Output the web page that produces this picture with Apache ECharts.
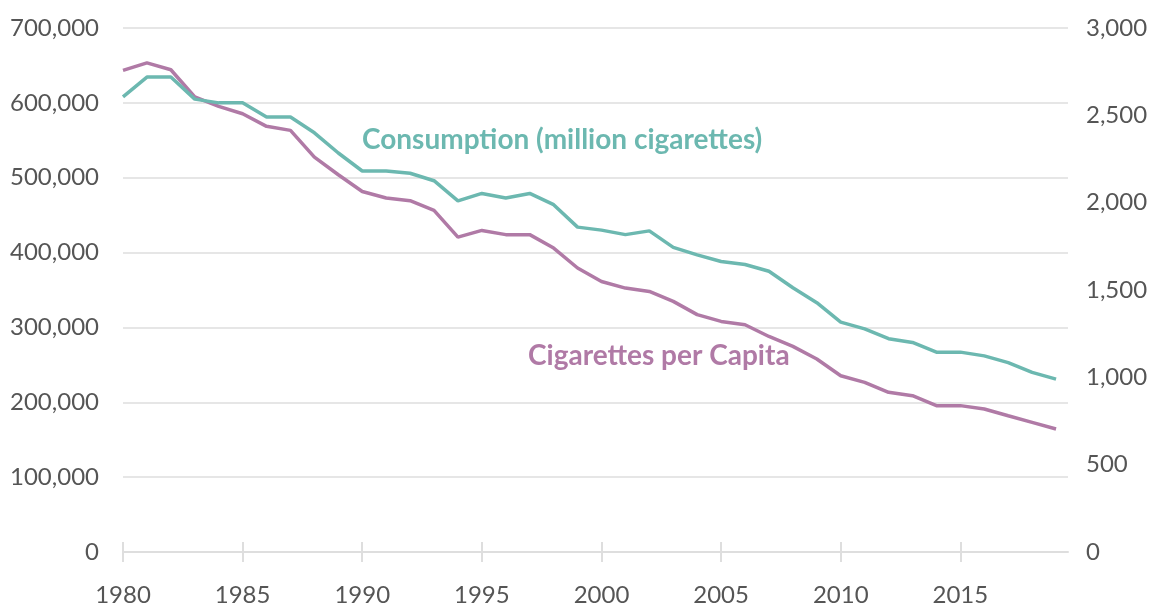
<!DOCTYPE html>
<html>
<head>
<meta charset="utf-8">
<script src="https://cdn.jsdelivr.net/npm/echarts@6/dist/echarts.min.js"></script>
<style>
html,body{margin:0;padding:0;background:#fff;}
#chart{width:1151px;height:610px;}
</style>
</head>
<body>
<div id="chart"></div>
<script>
const years = [];
for (let y = 1980; y <= 2019; y++) years.push(y);

const consumption = [
  608000, 634500, 634500, 605000, 600000, 600000, 581000, 581000, 560000, 533000,
  509000, 509000, 506000, 496000, 469000, 479000, 473000, 479000, 464000, 434000,
  430000, 424000, 429000, 407000, 397000, 388000, 384000, 375000, 353000, 333000,
  307000, 298000, 285000, 280000, 267000, 267000, 262000, 253000, 240000, 231000
];

const perCapita = [
  2757, 2800, 2761, 2605, 2551, 2509, 2437, 2414, 2261, 2160,
  2064, 2027, 2011, 1956, 1803, 1841, 1817, 1817, 1740, 1626,
  1549, 1511, 1492, 1435, 1359, 1320, 1301, 1234, 1177, 1105,
  1009, 971, 914, 895, 838, 838, 819, 780, 742, 704
];

const xTickYears = [1980, 1985, 1990, 1995, 2000, 2005, 2010, 2015];
const consumptionLabel = 'Consumption (million cigarettes)';
const perCapitaLabel = 'Cigarettes per Capita';

const TEAL = '#6cb8b0';
const PURPLE = '#b07aa6';
const TEXT = '#555555';
const GRID = '#dedede';
const FONT = 'Lato, "Noto Sans", sans-serif';

const chart = echarts.init(document.getElementById('chart'));
const fmt = v => v.toLocaleString('en-US');

chart.setOption({
  animation: false,
  grid: { left: 123, right: 83, top: 28, bottom: 58 },
  xAxis: [{
    type: 'value', min: 1980, max: 2019.5,
    axisLine: { show: true, lineStyle: { color: GRID, width: 2 } },
    axisTick: { show: true, length: 10, lineStyle: { color: GRID, width: 2 }, customValues: xTickYears },
    axisLabel: { color: TEXT, fontSize: 24, fontFamily: FONT, margin: 31, customValues: xTickYears, formatter: v => String(v) },
    splitLine: { show: false }
  }, {
    type: 'value', min: 1980, max: 2019.5, position: 'bottom',
    axisLine: { show: false },
    axisTick: { show: true, inside: true, length: 10, lineStyle: { color: GRID, width: 2 }, customValues: xTickYears },
    axisLabel: { show: false },
    splitLine: { show: false }
  }],
  yAxis: [{
    type: 'value', min: 0, max: 700000, interval: 100000,
    axisLine: { show: false }, axisTick: { show: false },
    axisLabel: { color: TEXT, fontSize: 24, fontFamily: FONT, margin: 24, formatter: fmt },
    splitLine: { lineStyle: { color: GRID, width: 1.5 } }
  }, {
    type: 'value', min: 0, max: 3000, interval: 500, position: 'right',
    axisLine: { show: false }, axisTick: { show: false },
    axisLabel: { color: TEXT, fontSize: 24, fontFamily: FONT, margin: 18, formatter: fmt },
    splitLine: { show: false }
  }],
  series: [{
    name: consumptionLabel, type: 'line', xAxisIndex: 0, yAxisIndex: 0,
    data: years.map((y, i) => [y, consumption[i]]),
    showSymbol: false, lineStyle: { color: TEAL, width: 3.5 }, z: 3
  }, {
    name: perCapitaLabel, type: 'line', xAxisIndex: 0, yAxisIndex: 1,
    data: years.map((y, i) => [y, perCapita[i]]),
    showSymbol: false, lineStyle: { color: PURPLE, width: 3.5 }, z: 2
  }],
  graphic: [{
    type: 'text', left: 362, top: 126,
    style: { text: consumptionLabel, fill: TEAL, font: 'bold 28px ' + FONT }
  }, {
    type: 'text', left: 528, top: 342,
    style: { text: perCapitaLabel, fill: PURPLE, font: 'bold 28px ' + FONT }
  }]
});
</script>
</body>
</html>
